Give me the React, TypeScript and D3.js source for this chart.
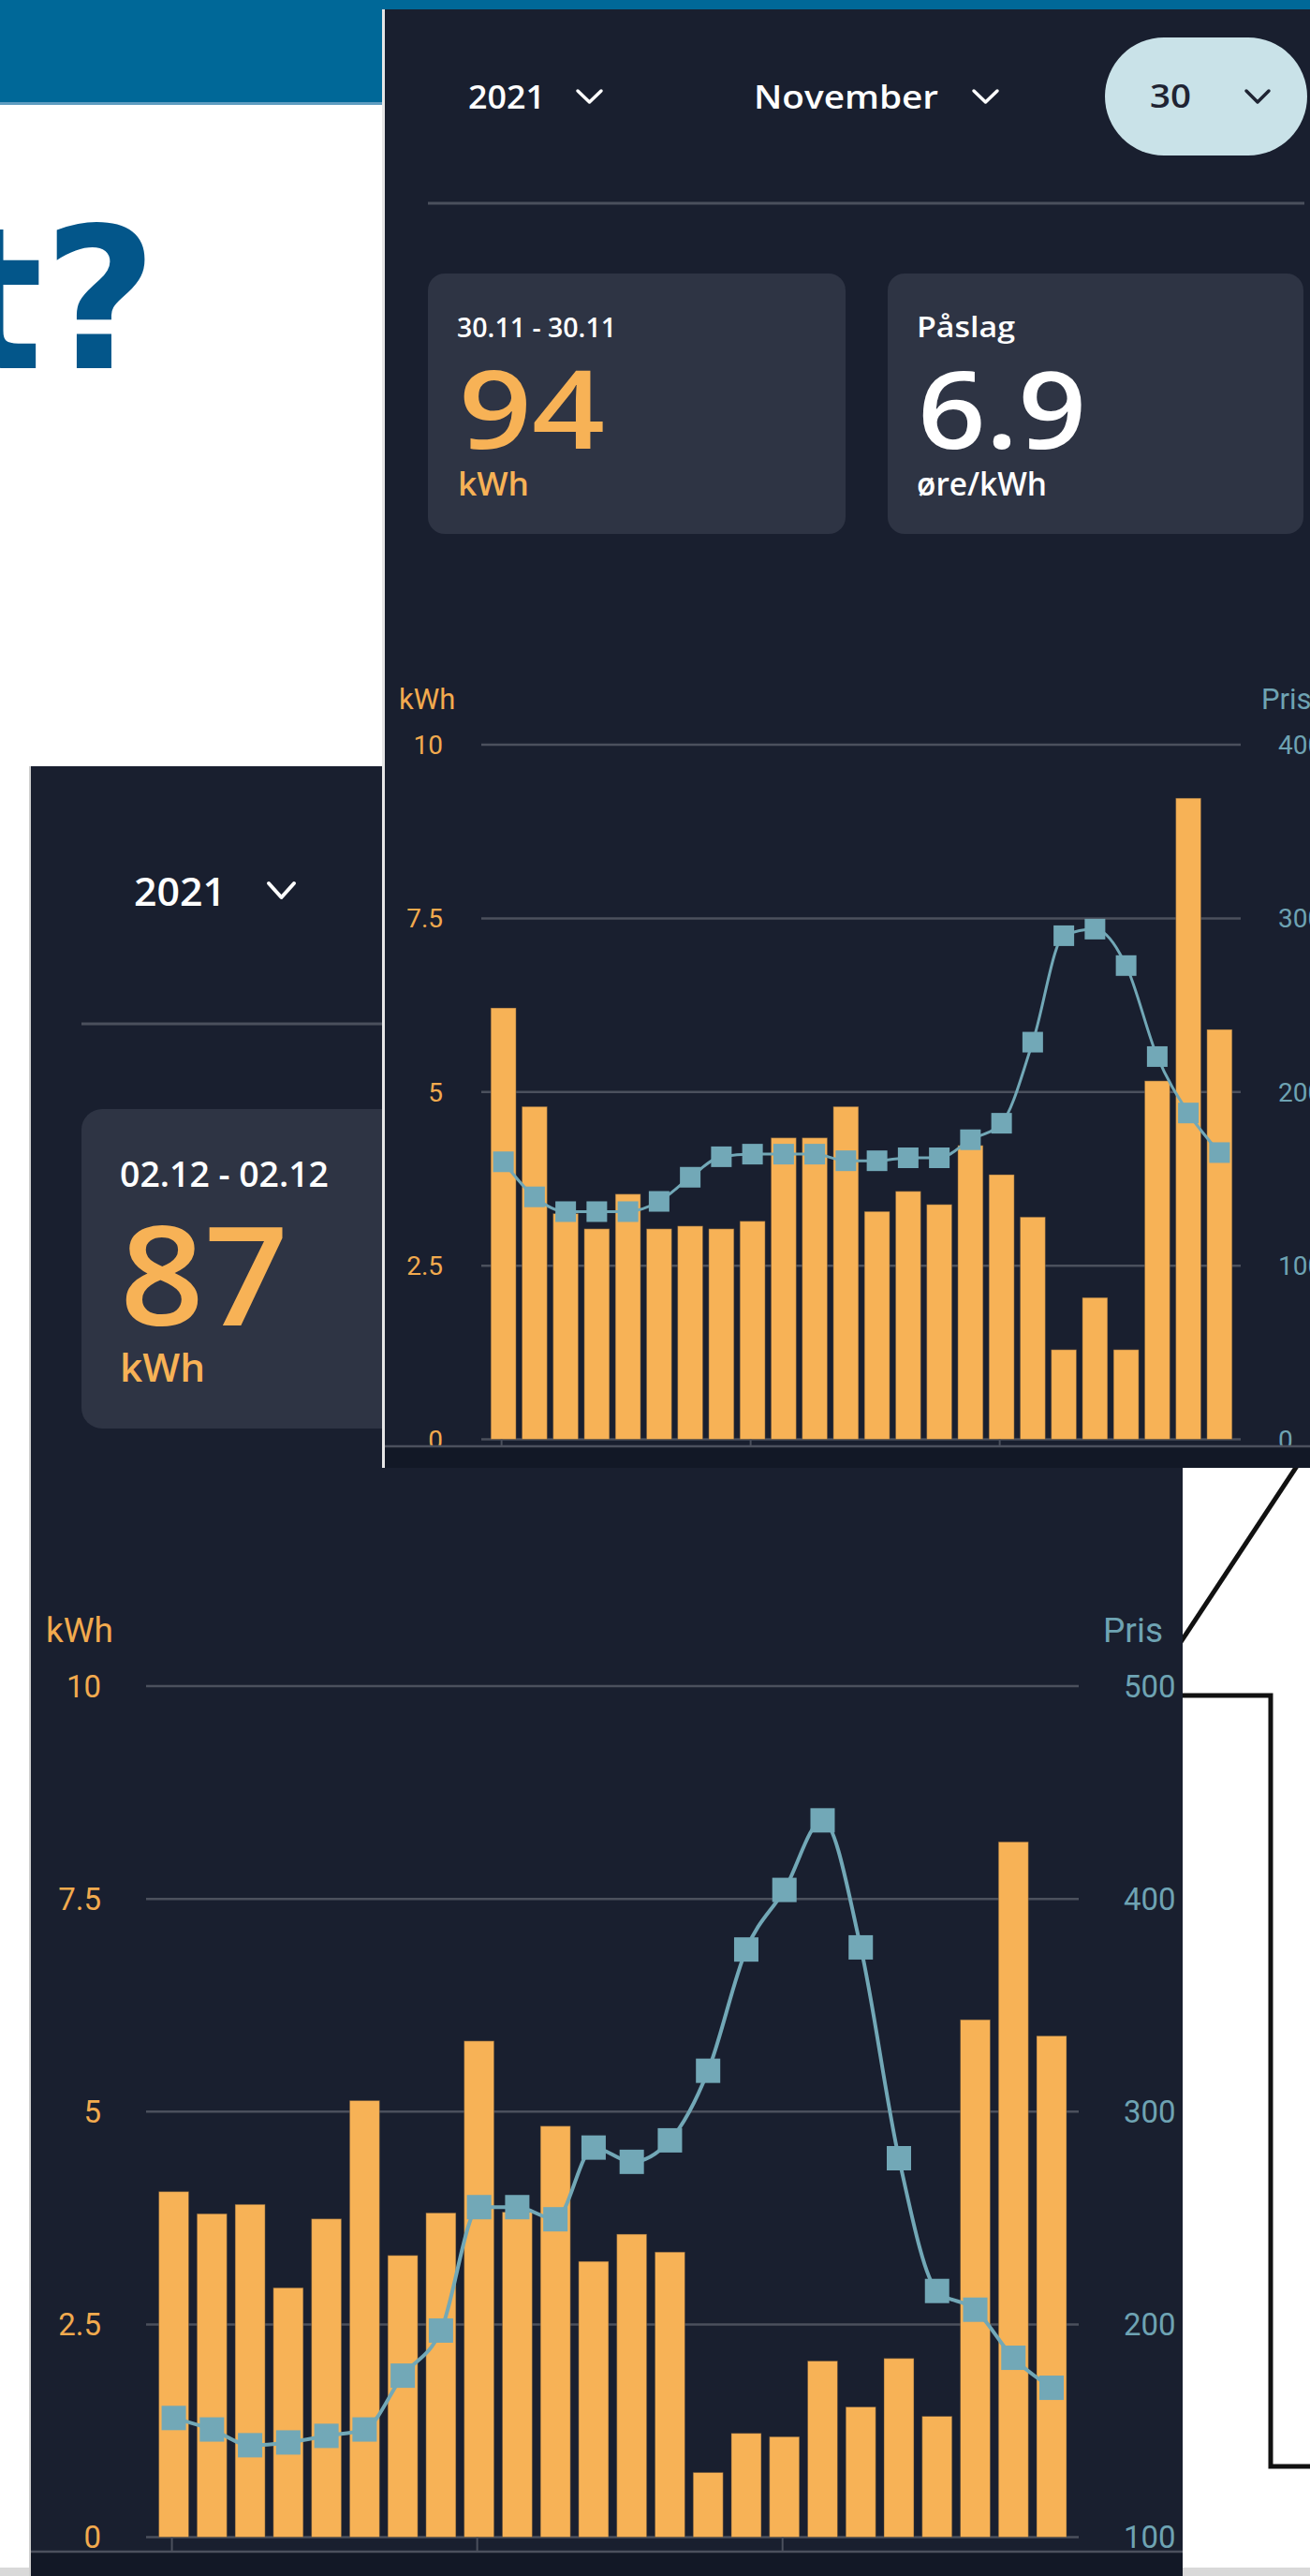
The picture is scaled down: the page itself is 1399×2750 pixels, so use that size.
import React from "react";
import * as d3 from "d3";

// ---------- DATA ----------
const hours = ["00","01","02","03","04","05","06","07","08","09","10","11","12","13","14","15","16","17","18","19","20","21","22","23"];
const tickHours = ["00","08","16"];

// 30.11 (front screenshot)
const kwhNov30 = [6.21,4.79,3.25,3.03,3.53,3.03,3.07,3.03,3.14,4.34,4.34,4.79,3.28,3.57,3.38,4.23,3.81,3.2,1.29,2.04,1.29,5.16,9.23,5.9];
const priceNov30 = [159.8,139.6,131.1,131.1,131.1,137,150.9,162.7,164.2,164.2,164.2,160.4,160.4,162.1,162.1,172.5,182,228.7,290,293.8,272.8,220.4,187.9,165.1];

// 02.12 (back screenshot)
const kwhDec02 = [4.06,3.8,3.91,2.93,3.74,5.13,3.31,3.81,5.83,3.82,4.83,3.24,3.56,3.35,0.76,1.22,1.18,2.07,1.53,2.1,1.42,6.08,8.17,5.89];
const priceDec02 = [156,150.6,143.2,144.5,147.6,150.6,175.9,197.1,255.1,255.1,249.4,283.1,276.4,286.5,319.2,376.2,404.2,436.9,377.2,278.1,215.7,206.9,184.3,170.2];

const kwhTicks = [0, 2.5, 5, 7.5, 10];

// ---------- STYLE ----------
const C = {
  panel: "#191f2f",
  card: "#2e3444",
  orange: "#f7b256",
  orangeText: "#f2aa4e",
  teal: "#72a8b7",
  tealText: "#6ea3b3",
  grid: "#4b505d",
  strip: "#121826",
  pill: "#c9e2e8",
  banner: "#006898",
  title: "#03568a",
};
const SANS = "'DejaVu Sans', sans-serif";
const UI = "'Open Sans', sans-serif";
const AX = "Roboto, sans-serif";

function Chevron({ x, y, w, h, color, sw }: any) {
  return (
    <path d={`M${x},${y} L${x + w / 2},${y + h} L${x + w},${y}`} fill="none" stroke={color} strokeWidth={sw} strokeLinecap="round" strokeLinejoin="round" />
  );
}

function T({ x, y, fill, fs, w, weight = 600, children }: any) {
  return (
    <text x={x} y={y} fill={fill} fontFamily={UI} fontWeight={weight} fontSize={fs} textLength={w} lengthAdjust="spacingAndGlyphs">{children}</text>
  );
}

function Chart({ kwh, price, xRange, yRange, pDomain, gridX, leftX, rightX, labelFs, titleFs, titleY, kwhX, prisX, marker, lineW, innerPad, stripY, stripH, stripX, tickBottom }: any) {
  const x = d3.scaleBand<string>().domain(hours).range(xRange).paddingInner(innerPad).paddingOuter(innerPad / 2);
  const y = d3.scaleLinear().domain([0, 10]).range(yRange);
  const p = d3.scaleLinear().domain(pDomain).range(yRange);
  const bw = x.bandwidth();
  const line = d3.line<number>()
    .x((_, i) => (x(hours[i]) as number) + bw / 2)
    .y((d) => p(d))
    .curve(d3.curveMonotoneX);
  const pTicks = p.ticks(4);
  return (
    <g>
      <text x={kwhX} y={titleY} fill={C.orangeText} fontFamily={AX} fontSize={titleFs}>kWh</text>
      <text x={prisX} y={titleY} fill={C.tealText} fontFamily={AX} fontSize={titleFs}>Pris</text>
      {kwhTicks.map((t) => (
        <g key={"g" + t}>
          <line x1={gridX[0]} x2={gridX[1]} y1={y(t)} y2={y(t)} stroke={C.grid} strokeWidth={2.5} />
          <text x={leftX} y={y(t)} dy="0.36em" textAnchor="end" fill={C.orangeText} fontFamily={AX} fontSize={labelFs}>{d3.format("")(t)}</text>
        </g>
      ))}
      {pTicks.map((t) => (
        <text key={"p" + t} x={rightX} y={p(t)} dy="0.36em" fill={C.tealText} fontFamily={AX} fontSize={labelFs}>{t}</text>
      ))}
      {kwh.map((v: number, i: number) => (
        <rect key={"b" + i} x={x(hours[i])} y={y(v)} width={bw} height={y(0) - y(v)} fill={C.orange} stroke="rgba(70,60,50,0.45)" strokeWidth={1} />
      ))}
      <path d={line(price) || ""} fill="none" stroke={C.teal} strokeWidth={lineW} />
      {price.map((v: number, i: number) => (
        <rect key={"m" + i} x={(x(hours[i]) as number) + bw / 2 - marker / 2} y={p(v) - marker / 2} width={marker} height={marker} fill={C.teal} />
      ))}
      {tickHours.map((h) => (
        <line key={"t" + h} x1={(x(h) as number) + bw / 2 - 2} x2={(x(h) as number) + bw / 2 - 2} y1={y(0)} y2={tickBottom} stroke={C.grid} strokeWidth={2} />
      ))}
      <rect x={stripX[0]} y={stripY} width={stripX[1] - stripX[0]} height={stripH} fill={C.strip} />
      <line x1={stripX[0]} x2={stripX[1]} y1={stripY} y2={stripY} stroke={C.grid} strokeWidth={2.5} />
    </g>
  );
}

export default function App() {
  return (
    <div style={{ position: "absolute", left: 0, top: 0, width: 1399, height: 2750, overflow: "hidden" }}>
      <svg width={1399} height={2750} style={{ display: "block" }}>
        {/* page background */}
        <rect x={0} y={0} width={1399} height={2750} fill="#ffffff" />
        <rect x={0} y={0} width={1399} height={110} fill={C.banner} />
        <rect x={0} y={109} width={1399} height={3} fill="#5f9cc0" />
        <text x={168} y={393} textAnchor="end" fill={C.title} fontFamily={SANS} fontWeight="bold" fontSize={210}>t?</text>

        {/* background sketch lines on the right */}
        <line x1={1150} y1={1921} x2={1399} y2={1544} stroke="#111" strokeWidth={5} />
        <path d="M1200,1810 H1357 V2633 H1399" fill="none" stroke="#111" strokeWidth={5} />
        <rect x={0} y={2741} width={1399} height={9} fill="#d9d9d9" />

        {/* ---------- back screenshot (02.12) ---------- */}
        <rect x={31} y={818} width={2} height={1932} fill="#cfcfcf" />
        <rect x={33} y={818} width={1230} height={1932} fill={C.panel} />
        <T x={143} y={967} fill="#ffffff" fs={42} w={98}>2021</T>
        <Chevron x={287} y={943} w={27} h={15} color="#ffffff" sw={4} />
        <line x1={87} x2={1263} y1={1093} y2={1093} stroke={C.grid} strokeWidth={3} />
        <rect x={87} y={1184} width={500} height={341} rx={22} fill={C.card} />
        <T x={128} y={1267} fill="#ffffff" fs={38} w={223}>02.12 - 02.12</T>
        <T x={128} y={1415} fill={C.orange} fs={146} w={180}>87</T>
        <T x={128} y={1475} fill={C.orange} fs={42} w={91}>kWh</T>

        <Chart
          kwh={kwhDec02}
          price={priceDec02}
          xRange={[165.2, 1143.4]}
          yRange={[2708.5, 1800]}
          pDomain={[100, 500]}
          gridX={[156, 1152]}
          leftX={108}
          rightX={1200}
          labelFs={33}
          titleFs={37}
          titleY={1753}
          kwhX={49}
          prisX={1178}
          marker={26}
          lineW={4}
          innerPad={0.215}
          stripY={2724}
          stripH={26}
          stripX={[33, 1263]}
          tickBottom={2724}
        />

        {/* ---------- front screenshot (30.11) ---------- */}
        <rect x={408} y={10} width={3} height={1557} fill="#e6e6e6" />
        <rect x={411} y={10} width={988} height={1557} fill={C.panel} />
        <T x={500} y={116} fill="#ffffff" fs={35} w={82}>2021</T>
        <Chevron x={617} y={97} w={25} h={12} color="#ffffff" sw={3.5} />
        <T x={805} y={116} fill="#ffffff" fs={35} w={197}>November</T>
        <Chevron x={1040} y={97} w={25} h={12} color="#ffffff" sw={3.5} />
        <rect x={1180} y={40} width={216} height={126} rx={63} fill={C.pill} />
        <T x={1228} y={115} fill="#1f2433" fs={34} w={44}>30</T>
        <Chevron x={1331} y={97} w={24} h={12} color="#1f2433" sw={3.5} />
        <line x1={457} x2={1393} y1={217} y2={217} stroke={C.grid} strokeWidth={3} />

        <rect x={457} y={292} width={446} height={278} rx={18} fill={C.card} />
        <rect x={948} y={292} width={444} height={278} rx={18} fill={C.card} />
        <T x={488} y={360} fill="#ffffff" fs={29} w={170}>30.11 - 30.11</T>
        <T x={490} y={479} fill={C.orange} fs={116} w={156}>94</T>
        <T x={489} y={529} fill={C.orange} fs={35} w={76}>kWh</T>
        <T x={979} y={360} fill="#ffffff" fs={30} w={105}>Påslag</T>
        <T x={980} y={479} fill="#ffffff" fs={114} w={180}>6.9</T>
        <T x={979} y={529} fill="#ffffff" fs={35} w={139}>øre/kWh</T>

        <Chart
          kwh={kwhNov30}
          price={priceNov30}
          xRange={[521, 1319]}
          yRange={[1536.5, 795]}
          pDomain={[0, 400]}
          gridX={[514, 1325]}
          leftX={473}
          rightX={1365}
          labelFs={28}
          titleFs={31}
          titleY={757}
          kwhX={426}
          prisX={1347}
          marker={22}
          lineW={3}
          innerPad={0.19}
          stripY={1544}
          stripH={23}
          stripX={[411, 1399]}
          tickBottom={1544}
        />
      </svg>
    </div>
  );
}
